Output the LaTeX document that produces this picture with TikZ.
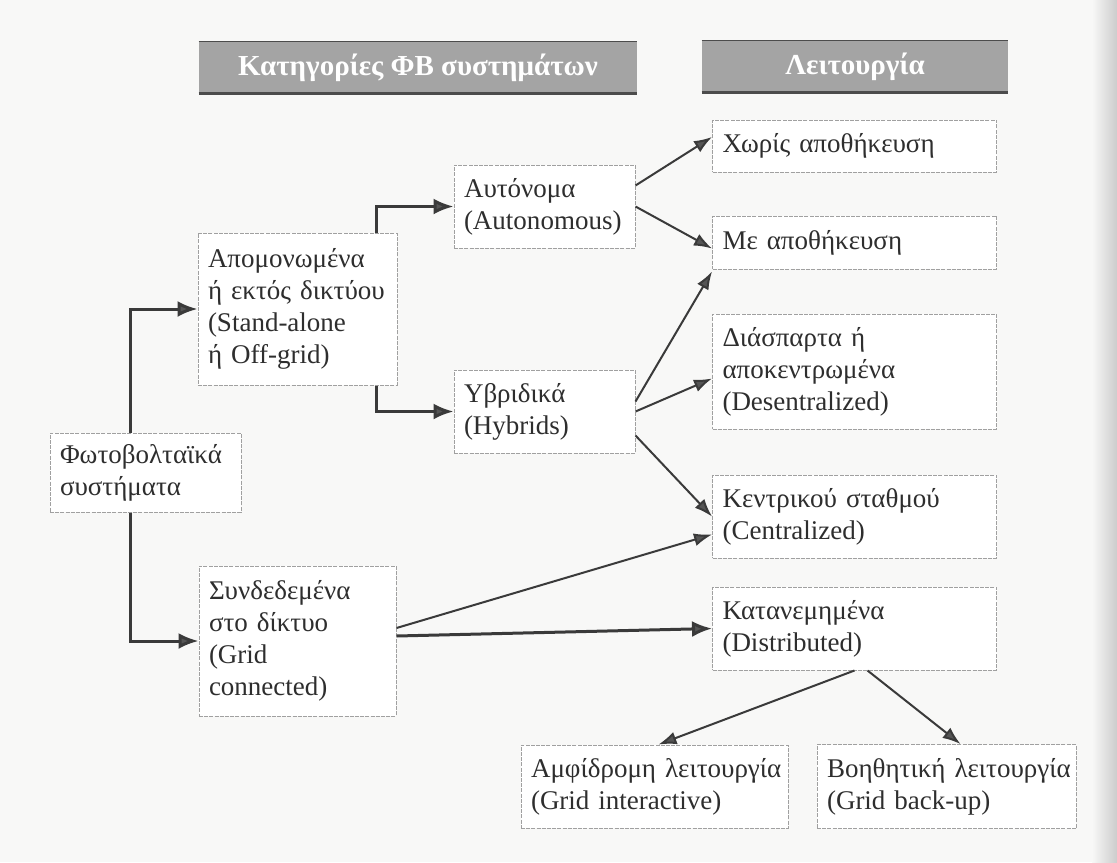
\documentclass[tikz,border=0pt]{standalone}
\usepackage{fontspec}
\setmainfont{Liberation Serif}
\usetikzlibrary{arrows.meta,positioning,calc}
\definecolor{ink}{HTML}{2E2E2E}
\definecolor{frame}{HTML}{A0A0A0}
\definecolor{band}{HTML}{A4A4A4}
\definecolor{paper}{HTML}{F8F8F7}
\definecolor{arrowgray}{HTML}{3A3A3A}
\definecolor{tipgray}{HTML}{555555}

\begin{document}
\begin{tikzpicture}[x=0.5pt,y=-0.5pt,every node/.style={font=\fontsize{13.5}{16}\selectfont,text=ink,align=left},box/.style={draw=frame,line width=0.5pt,dash pattern=on 2pt off 0.6pt,fill=white,inner xsep=5pt,inner ysep=0pt,text width=#1},head/.style={fill=band,text=white,font=\fontsize{14.5}{16}\selectfont\bfseries,align=center,minimum height=25.5pt,inner sep=0pt},headline/.style={draw=black!70,line width=#1},link/.style={draw=arrowgray,line width=1pt,-{Latex[length=9pt,width=6.5pt,fill=tipgray]}},elbow/.style={link,line width=1.5pt,-{Latex[length=10pt,width=8pt,fill=tipgray]}}]
\useasboundingbox (0,0) rectangle (1117,862);
\fill[paper] (0,0) rectangle (1117,862);
\shade[left color=paper,right color=gray!40] (1092,0) rectangle (1117,862);
% headers
\node[head,minimum width=219pt] (cathead) at (418,67.5) {Κατηγορίες ΦΒ συστημάτων};
\node[head,minimum width=153pt] (ophead) at (855,66.5) {Λειτουργία};
\draw[headline=0.6pt] (cathead.north west) -- (cathead.north east);
\draw[headline=1.2pt] (cathead.south west) -- (cathead.south east);
\draw[headline=0.6pt] (ophead.north west) -- (ophead.north east);
\draw[headline=1.2pt] (ophead.south west) -- (ophead.south east);
% left side
\node[box=85.5pt,minimum height=39.5pt] (fot) at (145.5,472.5) {Φωτοβολταϊκά\\ συστήματα};
\node[box=89.5pt,minimum height=76pt] (apom) at (297.5,309) {Απομονωμένα\\ ή~εκτός~δικτύου\\ (Stand-alone\\ ή~Off-grid)};
\node[box=88.5pt,minimum height=75pt,below=90pt of apom] (synd) {Συνδεδεμένα\\ στο~δίκτυο\\ (Grid\\ connected)};
\node[box=80.5pt,minimum height=41.5pt] (aut) at (544.5,206.5) {Αυτόνομα\\ (Autonomous)};
\node[box=80.5pt,minimum height=41.5pt,below=60.5pt of aut] (yvr) {Υβριδικά\\ (Hybrids)};
% right column
\node[box=132pt,minimum height=26pt] (xoris) at (854.5,146) {Χωρίς~αποθήκευση};
\node[box=132pt,minimum height=26.5pt,below=21.5pt of xoris] (me) {Με~αποθήκευση};
\node[box=132pt,minimum height=57.5pt,below=22pt of me] (diasp) {Διάσπαρτα~ή\\ αποκεντρωμένα\\ (Desentralized)};
\node[box=132pt,minimum height=41.5pt,below=22.5pt of diasp] (kentr) {Κεντρικού~σταθμού\\ (Centralized)};
\node[box=132pt,minimum height=41.5pt,below=14pt of kentr] (katan) {Κατανεμημένα\\ (Distributed)};
\node[box=123.5pt,minimum height=41.5pt] (amfi) at (654.5,786.5) {Αμφίδρομη~λειτουργία\\ (Grid~interactive)};
\node[box=119.5pt,minimum height=42pt,right=14pt of amfi] (vohth) {Βοηθητική~λειτουργία\\ (Grid~back-up)};
% connectors
\draw[elbow] ([xshift=-7.75pt]fot.north) |- (apom.west);
\draw[elbow] ([xshift=-7.75pt]fot.south) |- (synd.west);
\draw[elbow] ([xshift=39.25pt]apom.north) |- (aut.west);
\draw[elbow] ([xshift=39.25pt]apom.south) |- (yvr.west);
\draw[link] ([yshift=10.5pt]aut.east) -- ([yshift=4.5pt]xoris.west);
\draw[link] (aut.east) -- ([yshift=-3pt]me.west);
\draw[link] ([yshift=5pt]yvr.east) -- ([yshift=-1pt]me.south west);
\draw[link] (yvr.east) -- ([yshift=-3.5pt]diasp.west);
\draw[link] ([yshift=-12pt]yvr.east) -- (kentr.west);
\draw[link] ([yshift=6.5pt]synd.east) -- ([yshift=-9pt]kentr.west);
\draw[elbow] ([yshift=2.5pt]synd.east) -- (katan.west);
\draw[link] (katan.south) -- ([xshift=2pt]amfi.north);
\draw[link] ([xshift=6.5pt]katan.south) -- ([xshift=7pt]vohth.north);
\end{tikzpicture}
\end{document}
